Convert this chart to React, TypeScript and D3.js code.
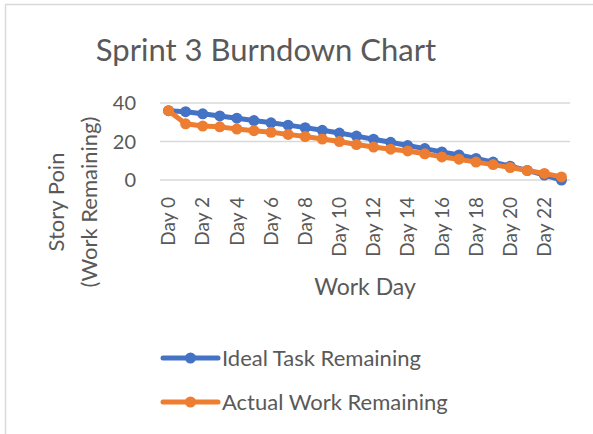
import React from "react";
import * as d3 from "d3";

const days = [
  "Day 0", "Day 1", "Day 2", "Day 3", "Day 4", "Day 5", "Day 6", "Day 7",
  "Day 8", "Day 9", "Day 10", "Day 11", "Day 12", "Day 13", "Day 14", "Day 15",
  "Day 16", "Day 17", "Day 18", "Day 19", "Day 20", "Day 21", "Day 22", "Day 23",
];
const idealRemaining = [
  36, 35.5, 34.4, 33.3, 32.1, 30.9, 29.7, 28.5, 27.2, 25.8, 24.4, 22.8,
  21.2, 19.6, 17.9, 16.3, 14.6, 13, 11.2, 9.3, 7.2, 5, 2.6, 0,
];
const actualRemaining = [
  36, 29.2, 28, 27.6, 26.5, 25.6, 24.8, 23.7, 22.6, 21.3, 20, 18.4,
  17.1, 16, 15.1, 13.6, 12, 10.8, 9.3, 8, 6.5, 4.9, 3.4, 1.6,
];
const yTicks = [0, 20, 40];
const seriesNames = ["Ideal Task Remaining", "Actual Work Remaining"];
const seriesColors = ["#4472C4", "#ED7D31"];

const width = 593;
const height = 434;
const margin = { left: 160, right: 23, top: 103, bottom: 254 };
const textColor = "#595959";
const font = "Lato, 'Open Sans', sans-serif";

export default function App() {
  const x = d3
    .scaleBand()
    .domain(days)
    .range([margin.left, width - margin.right]);
  const y = d3
    .scaleLinear()
    .domain([0, 40])
    .range([height - margin.bottom, margin.top]);
  const cx = (i) => x(days[i]) + x.bandwidth() / 2;

  const lineGen = d3
    .line()
    .x((d, i) => cx(i))
    .y((d) => y(d));

  const series = [idealRemaining, actualRemaining];

  return (
    <svg
      width={width}
      height={height}
      style={{ position: "absolute", left: 0, top: 0, background: "#fff" }}
      fontFamily={font}
    >
      <rect x={5.5} y={4.5} width={620} height={460} fill="#fff" stroke="#d9d9d9" strokeWidth={1.5} />

      {/* title */}
      <text x={266} y={61} textAnchor="middle" fontSize={31} fontWeight={400} fill={textColor}>
        Sprint 3 Burndown Chart
      </text>

      {/* gridlines + y ticks */}
      {yTicks.map((t) => (
        <g key={t}>
          <line
            x1={margin.left}
            x2={width - margin.right}
            y1={y(t)}
            y2={y(t)}
            stroke="#d9d9d9"
            strokeWidth={1.5}
          />
          <text x={136} y={y(t)} dy="0.35em" textAnchor="end" fontSize={20} fill={textColor}>
            {t}
          </text>
        </g>
      ))}

      {/* x tick labels */}
      {days.map((d, i) =>
        i % 2 === 0 ? (
          <text
            key={d}
            transform={`translate(${cx(i)},197) rotate(-90)`}
            dy="0.35em"
            textAnchor="end"
            fontSize={19}
            fill={textColor}
          >
            {d}
          </text>
        ) : null
      )}

      {/* axis titles */}
      <text x={365} y={295} textAnchor="middle" fontSize={23} fill={textColor}>
        Work Day
      </text>
      <g transform="translate(0,202) rotate(-90)" fontSize={22} fill={textColor}>
        <text x={0} y={64} textAnchor="middle">Story Poin</text>
        <text x={0} y={97} textAnchor="middle">(Work Remaining)</text>
      </g>

      {/* series */}
      {series.map((vals, s) => (
        <g key={seriesNames[s]}>
          <path
            d={lineGen(vals)}
            fill="none"
            stroke={seriesColors[s]}
            strokeWidth={5}
            strokeLinejoin="round"
          />
          {vals.map((v, i) => (
            <circle key={i} cx={cx(i)} cy={y(v)} r={5.5} fill={seriesColors[s]} />
          ))}
        </g>
      ))}

      {/* legend */}
      {seriesNames.map((name, s) => {
        const ly = 358 + s * 44;
        return (
          <g key={name}>
            <line x1={163} x2={218} y1={ly} y2={ly} stroke={seriesColors[s]} strokeWidth={5} strokeLinecap="round" />
            <circle cx={190.5} cy={ly} r={5.5} fill={seriesColors[s]} />
            <text x={222} y={ly + 7.5} fontSize={22} fill={textColor}>
              {name}
            </text>
          </g>
        );
      })}
    </svg>
  );
}
